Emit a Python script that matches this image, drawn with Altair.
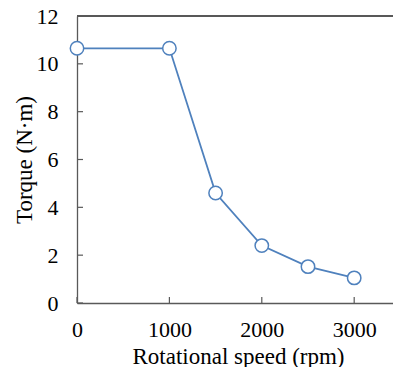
import altair as alt
import pandas as pd

speed = [0, 1000, 1500, 2000, 2500, 3000]
torque = [10.65, 10.65, 4.6, 2.4, 1.52, 1.05]
x_ticks = [0, 1000, 2000, 3000]
y_ticks = [0, 2, 4, 6, 8, 10, 12]

df = pd.DataFrame({"speed": speed, "torque": torque})
xt = pd.DataFrame({"v": x_ticks})
yt = pd.DataFrame({"v": y_ticks})

W, H = 316, 287
FONT = "Liberation Serif"
BLUE = "#4f81bd"
AX = "#595959"

xscale = alt.Scale(domain=[0, 3420], nice=False, zero=False)
yscale = alt.Scale(domain=[0, 12], nice=False)

base = alt.Chart(df)

line = base.mark_line(color=BLUE, strokeWidth=1.8).encode(
    x=alt.X("speed:Q", scale=xscale,
            axis=alt.Axis(values=x_ticks, format="d", title="Rotational speed (rpm)", grid=False,
                          ticks=False, domainColor=AX, domainWidth=1.3, labelFlush=False,
                          labelFont=FONT, labelFontSize=22, labelColor="black",
                          labelPadding=16, titleFont=FONT, titleFontSize=23,
                          titleFontWeight="normal", titleColor="black", titlePadding=5,
                          titleX=161)),
    y=alt.Y("torque:Q", scale=yscale,
            axis=alt.Axis(values=y_ticks, format="d", title="Torque (N·m)", grid=False,
                          ticks=False, domainColor=AX, domainWidth=1.3, labelFlush=False,
                          labelFont=FONT, labelFontSize=22, labelColor="black",
                          labelPadding=19, titleFont=FONT, titleFontSize=23,
                          titleFontWeight="normal", titleColor="black", titlePadding=0)),
)

points = base.mark_point(shape="circle", filled=True, fill="white", stroke=BLUE,
                         strokeWidth=1.5, size=180, opacity=1).encode(
    x=alt.X("speed:Q", scale=xscale),
    y=alt.Y("torque:Q", scale=yscale),
)

xticks = alt.Chart(xt).mark_rule(color=AX, strokeWidth=1.2).encode(
    x=alt.X("v:Q", scale=xscale),
    y=alt.value(H), y2=alt.value(H - 6),
)
yticks = alt.Chart(yt).mark_rule(color=AX, strokeWidth=1.2).encode(
    y=alt.Y("v:Q", scale=yscale),
    x=alt.value(0), x2=alt.value(6),
)
top = alt.Chart(yt).mark_rule(color=AX, strokeWidth=1.3).encode(
    x=alt.value(0), x2=alt.value(W), y=alt.value(0),
)

chart = alt.layer(top, xticks, yticks, line, points).properties(
    width=W, height=H,
    autosize=alt.AutoSizeParams(type="none"),
    padding={"left": 77, "top": 16, "right": 0, "bottom": 64},
    background="white",
).configure_view(stroke=None)

chart.save("out.html", embed_options={"renderer": "svg", "actions": False})
